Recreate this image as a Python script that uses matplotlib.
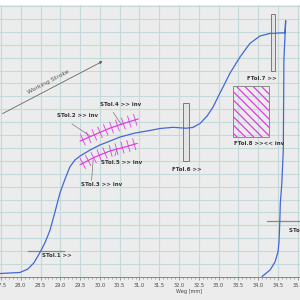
import numpy as np
import matplotlib
matplotlib.use("Agg")
import matplotlib.pyplot as plt
import matplotlib.patches as mpatches
import matplotlib.patheffects as pe
from matplotlib.ticker import MultipleLocator

# ── Data ───────────────────────────────────────────────────────────────────
# press curve (Weg mm, force in grid units), forward stroke then unloading
weg = [27.475, 27.98, 28.18, 28.33, 28.435, 28.51, 28.61, 28.74, 28.865, 28.99,
       29.12, 29.24, 29.37, 29.50, 29.75, 30.00, 30.255, 30.51, 30.89, 31.27,
       31.52, 31.85, 32.175, 32.35, 32.53, 32.71, 32.86, 33.035, 33.29, 33.54,
       33.79, 34.045, 34.30, 34.68, 34.695,
       34.65, 34.635, 34.595, 34.56, 34.545, 34.525, 34.50, 34.425, 34.30, 34.10]
kraft = [0.27, 0.35, 0.62, 1.09, 1.63, 2.05, 2.64, 3.64, 5.04, 6.51,
         7.60, 8.53, 9.07, 9.38, 9.84, 10.23, 10.54, 10.85, 11.16, 11.36,
         11.51, 11.60, 11.53, 11.59, 11.90, 12.48, 13.18, 14.26, 15.81, 17.05,
         18.10, 18.68, 18.88, 18.93, 19.87,
         16.82, 9.84, 7.13, 5.74, 4.19, 2.64, 1.94, 1.16, 0.54, 0.04]

# tolerance bands (magenta ticked curves)
band_upper_x = [29.50, 29.875, 30.255, 30.635, 30.965]
band_upper_y = [10.54, 11.04, 11.54, 11.94, 12.25]
band_lower_x = [29.50, 29.875, 30.255, 30.635, 30.94]
band_lower_y = [8.70, 9.30, 9.77, 10.08, 10.35]

# FTol boxes: (x0, x1, y0, y1)
ftol6 = (32.11, 32.24, 9.02, 13.47)
ftol7 = (34.315, 34.42, 15.99, 20.39)
ftol8 = (33.355, 34.27, 10.88, 14.83)

# STol lines: (x0, x1, y)
stol1 = (28.19, 29.10, 2.04)
stol9 = (34.215, 35.3, 4.36)

# labels: (text, x, y, ha)
labels = [
    ("STol.1 >>", 28.53, 1.63, "left"),
    ("STol.2 >> inv", 29.43, 12.52, "center"),
    ("STol.3 >> inv", 30.05, 7.19, "center"),
    ("STol.4 >> inv", 30.53, 13.36, "center"),
    ("STol.5 >> inv", 30.545, 8.84, "center"),
    ("FTol.6 >>", 32.20, 8.37, "center"),
    ("FTol.7 >>", 34.097, 15.35, "center"),
    ("FTol.8 >><< inv", 34.02, 10.36, "center"),
    ("STol.9 >>", 34.78, 3.59, "left"),
]
# leader lines: (x0, y0, x1, y1)
leaders = [
    (29.295, 11.86, 29.75, 10.93),
    (30.34, 12.74, 30.55, 11.78),
    (29.83, 9.07, 29.79, 7.50),
    (30.42, 9.84, 30.38, 9.40),
]

xticks = np.arange(27.5, 35.01, 0.5)

# ── Figure ─────────────────────────────────────────────────────────────────
bg = "#ececec"
fig = plt.figure(figsize=(3, 3), dpi=100, facecolor=bg)
fig.patches.append(mpatches.Rectangle((0, 0.985), 1, 0.015, transform=fig.transFigure,
                                      facecolor="white", edgecolor="none"))
ax = fig.add_axes([0, 0.0767, 1.0, 0.91])
ax.set_facecolor(bg)
ax.set_xlim(27.475, 35.057)
ax.set_ylim(0, 21.16)

ax.xaxis.set_minor_locator(MultipleLocator(0.1))
ax.yaxis.set_major_locator(MultipleLocator(1))
ax.grid(True, which="major", color="#c4dada", linewidth=0.8, zorder=0)
ax.set_axisbelow(True)
ax.set_xticks(xticks)
ax.set_xticklabels([f"{t:.1f}" for t in xticks], fontsize=3.6, color="#444444",
                   family="Liberation Sans Narrow")
ax.tick_params(axis="x", which="major", length=2, width=0.5, color="#777777", pad=2)
ax.tick_params(axis="x", which="minor", length=1.2, width=0.4, color="#777777")
ax.tick_params(axis="y", left=False, labelleft=False)
for side in ["top", "right", "left"]:
    ax.spines[side].set_visible(False)
ax.spines["bottom"].set_color("#888888")
ax.spines["bottom"].set_linewidth(0.7)
fig.text(0.63, 0.03, "Weg [mm]", fontsize=3.6, color="#444444", ha="center", va="center",
         family="Liberation Sans Narrow")

# working stroke arrow
ax.annotate("", xy=(30.13, 16.82), xytext=(27.475, 12.56),
            arrowprops=dict(arrowstyle="-|>", color="#666666", lw=0.6,
                            mutation_scale=4))
ax.text(28.69, 15.12, "Working Stroke", fontsize=4.4, color="#555555", rotation=27.6,
        ha="center", va="center", rotation_mode="anchor")

# tolerance bands
tick_fx = [pe.withTickedStroke(angle=90, spacing=4.3, length=0.95),
           pe.withTickedStroke(angle=-90, spacing=4.3, length=0.95)]
for bx, by in [(band_upper_x, band_upper_y), (band_lower_x, band_lower_y)]:
    ax.plot(bx, by, color="#e23ae2", lw=0.6, path_effects=tick_fx, zorder=3)

# FTol boxes
for x0, x1, y0, y1 in [ftol6, ftol7]:
    ax.add_patch(mpatches.Rectangle((x0, y0), x1 - x0, y1 - y0, facecolor="#e4e4e4",
                                    edgecolor="#7a7a7a", lw=0.7, zorder=4))
x0, x1, y0, y1 = ftol8
plt.rcParams["hatch.linewidth"] = 0.9
ax.add_patch(mpatches.Rectangle((x0, y0), x1 - x0, y1 - y0, facecolor="none",
                                edgecolor="#e23ae2", hatch="\\\\\\\\", lw=0, zorder=3))
ax.add_patch(mpatches.Rectangle((x0, y0), x1 - x0, y1 - y0, facecolor="none",
                                edgecolor="#8a8a8a", lw=0.7, zorder=4))

# STol lines
for sx0, sx1, sy in [stol1, stol9]:
    ax.plot([sx0, sx1], [sy, sy], color="#8a8a8a", lw=0.9, zorder=3)

# curve
ax.plot(weg, kraft, color="#4268d8", lw=0.9, zorder=5)

# labels and leaders
for txt, lx, ly, ha in labels:
    ax.text(lx, ly, txt, ha=ha, va="center", fontsize=4.0, color="#333333",
            fontweight="bold", family="Liberation Sans Narrow", zorder=6)
for lx0, ly0, lx1, ly1 in leaders:
    ax.plot([lx0, lx1], [ly0, ly1], color="#777777", lw=0.5, zorder=4)

fig.savefig("out.png", dpi=100, facecolor=fig.get_facecolor())
